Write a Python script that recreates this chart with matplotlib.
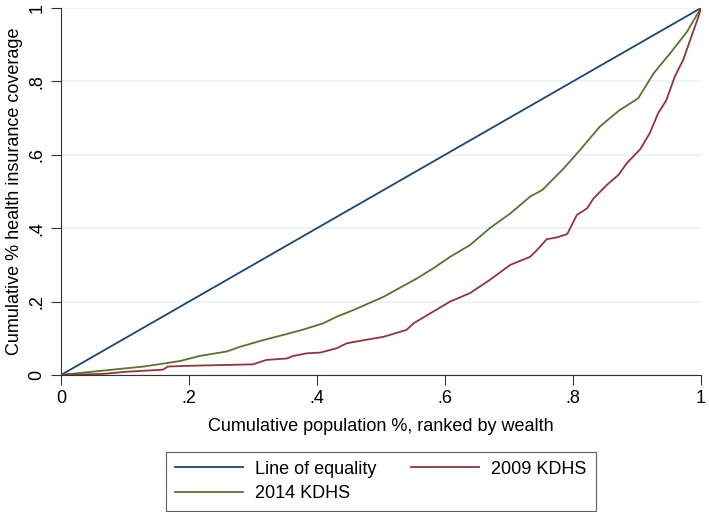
import matplotlib.pyplot as plt

# Lorenz-type concentration curves
x_2014 = [0, 0.066, 0.129, 0.186, 0.217, 0.259, 0.280, 0.316, 0.347, 0.379,
          0.410, 0.431, 0.457, 0.504, 0.556, 0.582, 0.608, 0.639, 0.670, 0.702,
          0.733, 0.752, 0.785, 0.811, 0.842, 0.873, 0.902, 0.926, 0.952, 0.978, 1]
y_2014 = [0, 0.012, 0.023, 0.038, 0.052, 0.064, 0.077, 0.095, 0.109, 0.124,
          0.141, 0.159, 0.177, 0.213, 0.263, 0.291, 0.322, 0.354, 0.400, 0.440,
          0.486, 0.504, 0.562, 0.613, 0.677, 0.722, 0.754, 0.822, 0.877, 0.935, 1]

x_2009 = [0, 0.066, 0.103, 0.155, 0.160, 0.167, 0.199, 0.300, 0.321, 0.353,
          0.363, 0.384, 0.405, 0.431, 0.446, 0.467, 0.504, 0.540, 0.551, 0.577,
          0.608, 0.639, 0.670, 0.702, 0.733, 0.744, 0.759, 0.775, 0.791, 0.806,
          0.822, 0.832, 0.853, 0.871, 0.884, 0.905, 0.920, 0.933, 0.946, 0.959,
          0.972, 0.985, 0.996, 1]
y_2009 = [0, 0.003, 0.009, 0.014, 0.015, 0.023, 0.025, 0.029, 0.041, 0.045,
          0.052, 0.059, 0.061, 0.073, 0.086, 0.093, 0.104, 0.123, 0.141, 0.168,
          0.200, 0.223, 0.259, 0.300, 0.322, 0.341, 0.370, 0.375, 0.384, 0.436,
          0.454, 0.481, 0.518, 0.545, 0.577, 0.615, 0.659, 0.713, 0.749, 0.813,
          0.858, 0.922, 0.976, 1]

x_equal = [0, 1]
y_equal = [0, 1]

ticks = [0, 0.2, 0.4, 0.6, 0.8, 1]
tick_labels = ["0", ".2", ".4", ".6", ".8", "1"]

navy = "#1a476f"
maroon = "#90353b"
green = "#55752f"

plt.rcParams["font.family"] = ["Liberation Sans", "DejaVu Sans"]

fig = plt.figure(figsize=(7.09, 5.12), dpi=100)
ax = fig.add_axes([0.086, 0.2676, 0.9027, 0.7168])

ax.plot(x_equal, y_equal, color=navy, lw=1.3, label="Line of equality", zorder=3)
ax.plot(x_2014, y_2014, color=green, lw=1.3, label="2014 KDHS", zorder=3)
ax.plot(x_2009, y_2009, color=maroon, lw=1.3, label="2009 KDHS", zorder=3)

ax.set_xlim(0, 1)
ax.set_ylim(0, 1)
ax.set_xticks(ticks)
ax.set_xticklabels(tick_labels)
ax.set_yticks(ticks)
ax.set_yticklabels(tick_labels, rotation=90, va="center")
ax.tick_params(axis="both", labelsize=13, length=7, width=0.8, color="#333333", pad=4)

for side in ["top", "right"]:
    ax.spines[side].set_visible(False)
for side in ["left", "bottom"]:
    ax.spines[side].set_color("#333333")
    ax.spines[side].set_linewidth(0.8)

ax.yaxis.grid(True, color="#eaf2f3", lw=1.2, zorder=0)
ax.set_axisbelow(True)

ax.set_xlabel("Cumulative population %, ranked by wealth", fontsize=13, labelpad=8)
ax.set_ylabel("Cumulative % health insurance coverage", fontsize=13, labelpad=4)

# two columns: equality / 2014 on the left, 2009 on the right
leg = fig.legend(loc="lower center", bbox_to_anchor=(0.537, 0.002), ncol=2,
                 fontsize=13, frameon=True, fancybox=False, handlelength=3.8,
                 columnspacing=1.9, handletextpad=0.65, borderpad=0.5,
                 labelspacing=0.4, borderaxespad=0)
leg.get_frame().set_edgecolor("#333333")
leg.get_frame().set_linewidth(0.8)

fig.savefig("out.png", dpi=100)
